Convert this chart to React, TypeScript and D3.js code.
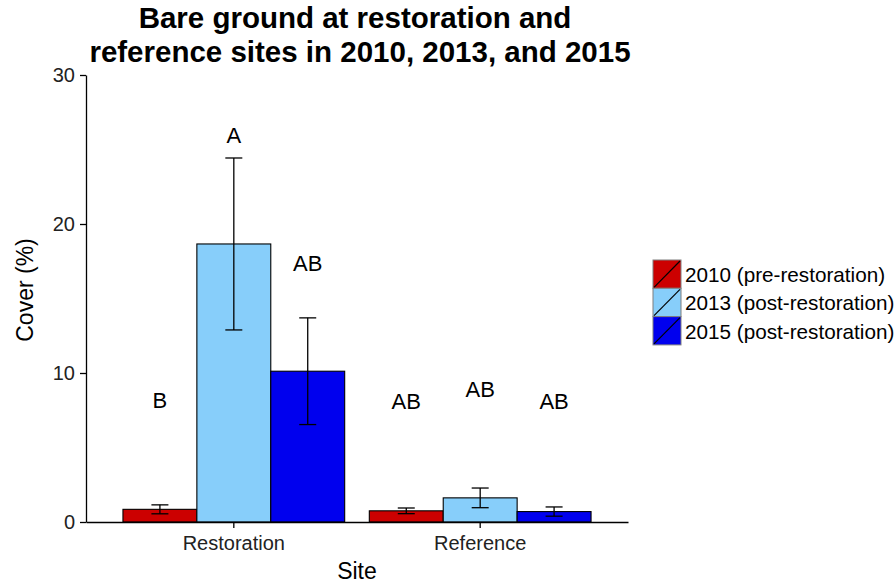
import React, { useEffect, useRef } from 'react';
import * as d3 from 'd3';

const sites = ['Restoration', 'Reference'];
const years = ['2010 (pre-restoration)', '2013 (post-restoration)', '2015 (post-restoration)'];
const colors = ['#CC0000', '#87CEFA', '#0000EE'];

// mean cover and standard error per site, one value per year
const restorationMean = [0.85, 18.66, 10.12];
const restorationSe = [0.3, 5.77, 3.58];
const referenceMean = [0.75, 1.62, 0.7];
const referenceSe = [0.19, 0.66, 0.31];

// significance letters and the height they sit at (in % cover)
const restorationLetters = ['B', 'A', 'AB'];
const restorationLetterY = [8.2, 26.0, 17.4];
const referenceLetters = ['AB', 'AB', 'AB'];
const referenceLetterY = [8.1, 8.9, 8.1];

const yTicks = [0, 10, 20, 30];

const FONT = 'Liberation Sans, Arial, sans-serif';

export default function App() {
  const svgRef = useRef<SVGSVGElement>(null);

  useEffect(() => {
    if (!svgRef.current) return;
    const svg = d3.select(svgRef.current);
    svg.selectAll('*').remove();

    const rows = [
      ...years.map((yr, i) => ({ site: sites[0], year: yr, mean: restorationMean[i], se: restorationSe[i], letter: restorationLetters[i], ly: restorationLetterY[i], color: colors[i] })),
      ...years.map((yr, i) => ({ site: sites[1], year: yr, mean: referenceMean[i], se: referenceSe[i], letter: referenceLetters[i], ly: referenceLetterY[i], color: colors[i] })),
    ];

    const x = d3.scaleBand<string>().domain(sites).range([86, 628]).paddingInner(0.1).paddingOuter(0.15);
    const xInner = d3.scaleBand<string>().domain(years).range([0, x.bandwidth()]);
    const y = d3.scaleLinear().domain([0, 30]).range([522, 75]);

    const g = svg.append('g');

    // bars
    g.selectAll('rect.bar')
      .data(rows)
      .enter()
      .append('rect')
      .attr('class', 'bar')
      .attr('x', (d) => x(d.site)! + xInner(d.year)!)
      .attr('y', (d) => y(d.mean))
      .attr('width', xInner.bandwidth())
      .attr('height', (d) => y(0) - y(d.mean))
      .attr('fill', (d) => d.color)
      .attr('stroke', '#000')
      .attr('stroke-width', 1.1);

    // error bars
    const cx = (d: any) => x(d.site)! + xInner(d.year)! + xInner.bandwidth() / 2;
    const eb = g.selectAll('g.err').data(rows).enter().append('g').attr('class', 'err');
    eb.append('line')
      .attr('x1', cx).attr('x2', cx)
      .attr('y1', (d) => y(d.mean + d.se))
      .attr('y2', (d) => y(d.mean - d.se));
    eb.append('line')
      .attr('x1', (d) => cx(d) - 8.5).attr('x2', (d) => cx(d) + 8.5)
      .attr('y1', (d) => y(d.mean + d.se)).attr('y2', (d) => y(d.mean + d.se));
    eb.append('line')
      .attr('x1', (d) => cx(d) - 8.5).attr('x2', (d) => cx(d) + 8.5)
      .attr('y1', (d) => y(d.mean - d.se)).attr('y2', (d) => y(d.mean - d.se));
    eb.selectAll('line').attr('stroke', '#000').attr('stroke-width', 1.3);

    // letters
    g.selectAll('text.letter')
      .data(rows)
      .enter()
      .append('text')
      .attr('class', 'letter')
      .attr('x', cx)
      .attr('y', (d) => y(d.ly))
      .attr('dy', '0.36em')
      .attr('text-anchor', 'middle')
      .style('font-family', FONT)
      .style('font-size', '22px')
      .style('fill', '#000')
      .text((d) => d.letter);

    // axes
    const yAxis = svg.append('g').attr('transform', 'translate(86,0)')
      .call(d3.axisLeft(y).tickValues(yTicks).tickSize(6).tickSizeOuter(0).tickPadding(5));
    const xAxis = svg.append('g').attr('transform', 'translate(0,522)')
      .call(d3.axisBottom(x).tickSize(6).tickSizeOuter(0).tickPadding(8));
    [yAxis, xAxis].forEach((ax) => {
      ax.select('.domain').attr('stroke', '#000').attr('stroke-width', 1.3);
      ax.selectAll('.tick line').attr('stroke', '#000').attr('stroke-width', 1.3);
      ax.selectAll('.tick text').style('font-family', FONT).style('font-size', '20px').attr('fill', '#222');
    });

    // axis titles
    svg.append('text')
      .attr('transform', 'translate(33,290) rotate(-90)')
      .attr('text-anchor', 'middle')
      .style('font-family', FONT)
      .style('font-size', '23px')
      .text('Cover (%)');
    svg.append('text')
      .attr('x', 357)
      .attr('y', 579)
      .attr('text-anchor', 'middle')
      .style('font-family', FONT)
      .style('font-size', '23px')
      .text('Site');

    // title
    const title = svg.append('text')
      .attr('text-anchor', 'middle')
      .style('font-family', FONT)
      .style('font-size', '29.5px')
      .style('font-weight', 'bold');
    title.append('tspan').attr('x', 355).attr('y', 28).text('Bare ground at restoration and');
    title.append('tspan').attr('x', 360).attr('y', 62).text('reference sites in 2010, 2013, and 2015');

    // legend
    const legend = svg.append('g').attr('transform', 'translate(653,260)');
    const item = legend.selectAll('g.item').data(years).enter().append('g')
      .attr('transform', (_, i) => `translate(0,${i * 28.3})`);
    item.append('rect')
      .attr('width', 28).attr('height', 28.3)
      .attr('fill', (_, i) => colors[i])
      .attr('stroke', '#7f7f7f')
      .attr('stroke-width', 1);
    item.append('line')
      .attr('x1', 1).attr('y1', 27.3).attr('x2', 27).attr('y2', 1)
      .attr('stroke', '#000').attr('stroke-width', 1.2);
    item.append('text')
      .attr('x', 32)
      .attr('y', 14.5)
      .attr('dy', '0.36em')
      .style('font-family', FONT)
      .style('font-size', '20.7px')
      .text((d) => d);
  }, []);

  return (
    <svg
      ref={svgRef}
      width={896}
      height={586}
      style={{ position: 'absolute', left: 0, top: 0, background: '#fff' }}
    />
  );
}
